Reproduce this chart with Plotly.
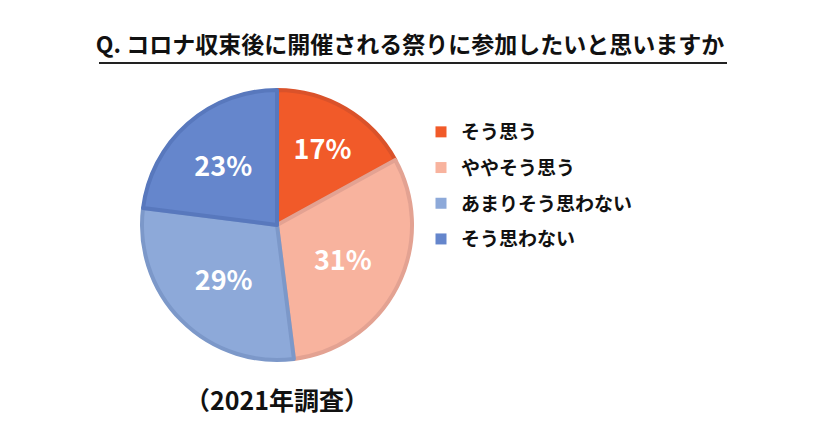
import plotly.graph_objects as go

categories = ["そう思う", "ややそう思う", "あまりそう思わない", "そう思わない"]
values = [17, 31, 29, 23]
fill_colors = ["#F15A29", "#F8B39E", "#8DA9D9", "#6586CC"]
edge_colors = ["#DA522A", "#E3A292", "#7C98C9", "#5878BD"]

title_text = "Q. コロナ収束後に開催される祭りに参加したいと思いますか"
caption_text = "（2021年調査）"

W, H = 818, 433
OFF = 8  # page body margin of the html output
FONT = "Noto Sans CJK JP"


def px(x):
    return (x - OFF) / W


def py(y):
    return 1 - (y - OFF) / H


fig = go.Figure()

# legend entries (one per category)
for name, col in zip(categories, fill_colors):
    fig.add_trace(go.Scatter(
        x=[None], y=[None], mode="markers", name=name,
        marker=dict(symbol="square", size=11, color=col),
        legendgroup=name,
    ))

fig.add_trace(go.Pie(
    labels=categories,
    values=values,
    sort=False,
    direction="clockwise",
    rotation=0,
    marker=dict(colors=fill_colors, line=dict(color=edge_colors, width=4)),
    textinfo="percent",
    texttemplate="%{percent:.0%}",
    textposition="inside",
    insidetextorientation="horizontal",
    textfont=dict(family=FONT, size=27, color="white", weight="bold"),
    domain=dict(x=[px(142), px(412)], y=[py(360), py(90)]),
    showlegend=False,
    hoverinfo="label+percent",
))

fig.update_layout(
    width=W, height=H,
    margin=dict(l=0, r=0, t=0, b=0, autoexpand=False),
    paper_bgcolor="white",
    plot_bgcolor="white",
    xaxis=dict(visible=False),
    yaxis=dict(visible=False),
    font=dict(family=FONT, color="#000000"),
    title=dict(
        text=title_text,
        x=px(410), xanchor="center",
        y=py(45), yanchor="middle",
        font=dict(family=FONT, size=23, color="#111111", weight="bold"),
    ),
    legend=dict(
        x=px(421), xanchor="left",
        y=py(113), yanchor="top",
        font=dict(family=FONT, size=19, color="#111111", weight="bold"),
        tracegroupgap=8,
        bgcolor="rgba(0,0,0,0)",
        itemclick=False, itemdoubleclick=False,
    ),
    annotations=[dict(
        text=caption_text,
        x=px(277), y=py(399), xref="paper", yref="paper",
        xanchor="center", yanchor="middle", showarrow=False,
        font=dict(family=FONT, size=25, color="#111111", weight="bold"),
    )],
    shapes=[dict(
        type="line", xref="paper", yref="paper",
        x0=px(99), x1=px(727), y0=py(63), y1=py(63),
        line=dict(color="#222222", width=2),
    )],
)

fig.write_html("out.html")
